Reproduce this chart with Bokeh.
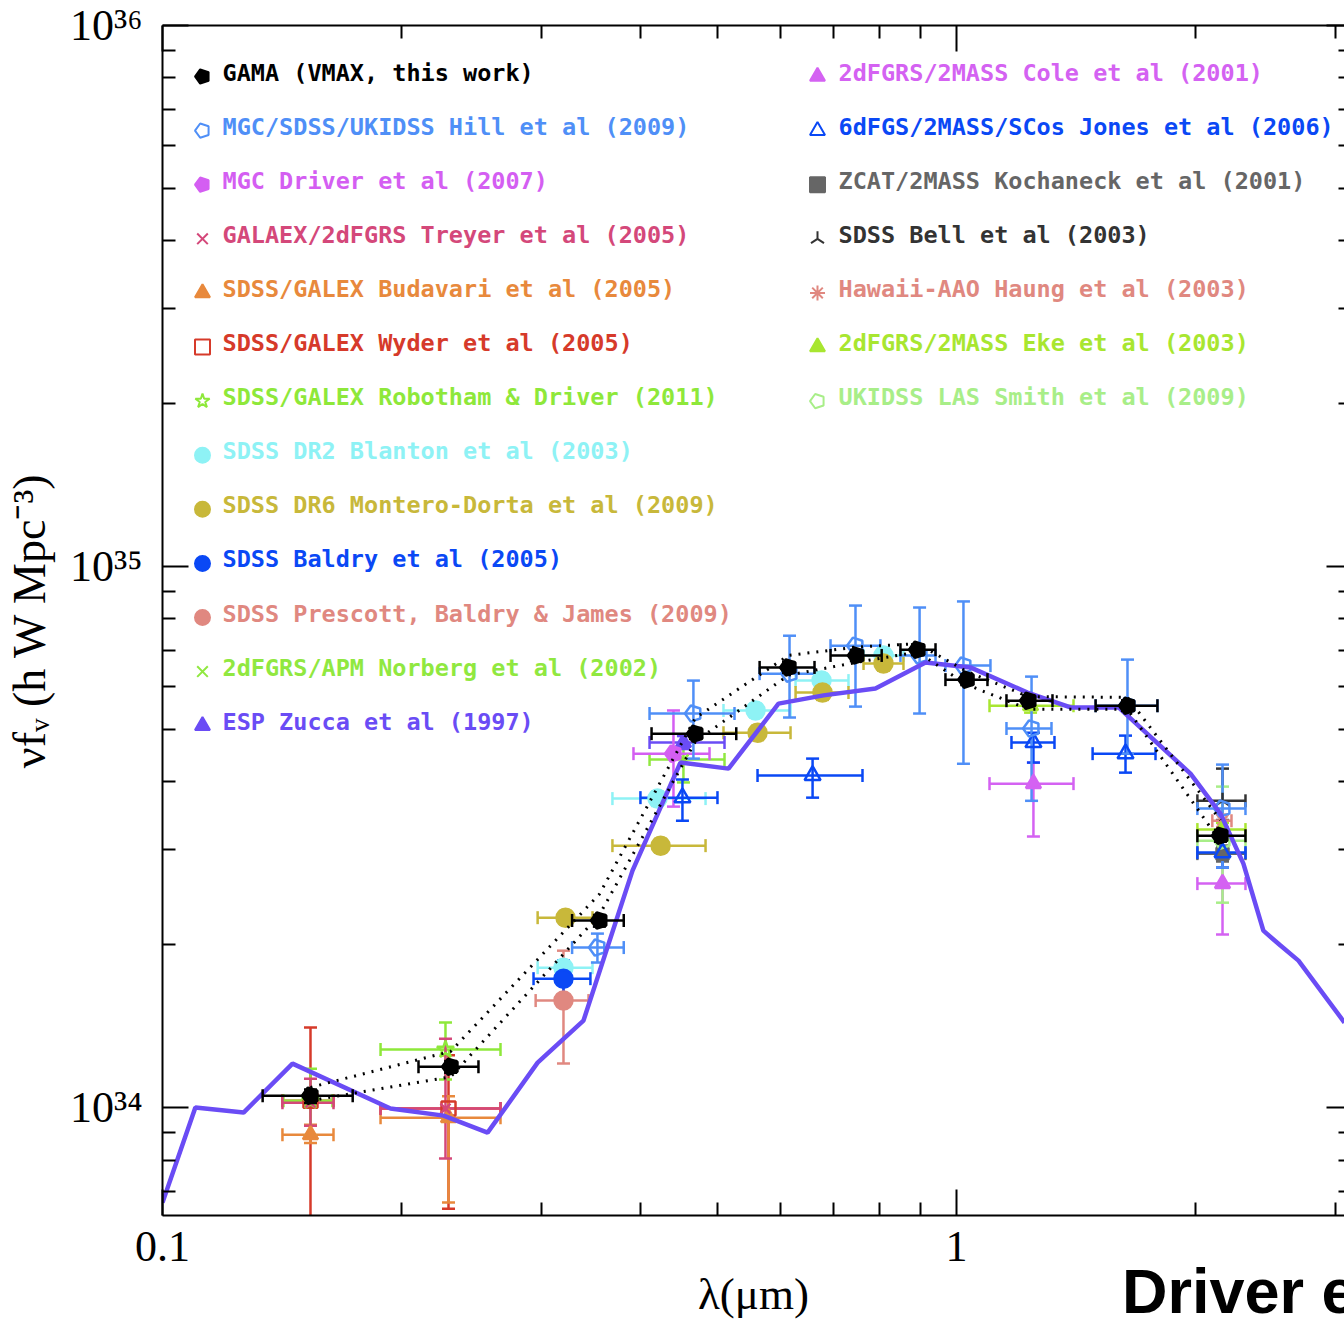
import numpy as np
from bokeh.plotting import figure
from bokeh.layouts import column
from bokeh.models import (ColumnDataSource, Whisker, TeeHead, FixedTicker, LogAxis, Div,
                          Range1d, LinearScale, PrintfTickFormatter, CustomLabelingPolicy)
from bokeh.core.properties import value
from bokeh.embed import file_html
from bokeh.resources import INLINE

try:
    from bokeh.models import Ngon
    HAS_NGON = True
except ImportError:
    HAS_NGON = False

E = 1e34  # luminosity values below are in units of 1e34 h W Mpc^-3

# ---------------- data (lambda in micron, nu f_nu in 1e34 h W Mpc^-3) -------------
gama_lam    = [0.1536, 0.2306, 0.3550, 0.4690, 0.6144, 0.7480, 0.8930, 1.0300, 1.2320, 1.6420, 2.1500]
gama_lam_lo = [0.1337, 0.2101, 0.3280, 0.4130, 0.5650, 0.6940, 0.8500, 0.9685, 1.1560, 1.4970, 2.0110]
gama_lam_hi = [0.1736, 0.2500, 0.3810, 0.5280, 0.6625, 0.8050, 0.9410, 1.0940, 1.3210, 1.7910, 2.3120]
gama_lum    = [1.052, 1.190, 2.217, 4.910, 6.510, 6.850, 7.020, 6.180, 5.650, 5.530, 3.180]
gama_lum_lo = [1.020, 1.160, 2.160, 4.800, 6.360, 6.690, 6.860, 6.040, 5.520, 5.410, 3.100]
gama_lum_hi = [1.080, 1.220, 2.270, 5.030, 6.660, 7.010, 7.180, 6.320, 5.780, 5.660, 3.260]
gama_up     = [1.090, 1.270, 2.480, 5.250, 6.850, 7.100, 7.200, 6.400, 5.750, 5.730, 3.400]
gama_dn     = [1.030, 1.140, 2.270, 4.750, 6.300, 6.650, 6.950, 6.050, 5.450, 5.450, 3.100]

hill_lam    = [0.3530, 0.4663, 0.6162, 0.7461, 0.8985, 1.0204, 1.2432, 1.6420, 2.1630]
hill_lam_lo = [0.3280, 0.4106, 0.5650, 0.6940, 0.8500, 0.9685, 1.1560, 1.4970, 2.0110]
hill_lam_hi = [0.3810, 0.5253, 0.6625, 0.8020, 0.9410, 1.1035, 1.3172, 1.7910, 2.3120]
hill_lum    = [1.976, 5.350, 6.340, 7.140, 6.850, 6.560, 5.020, 5.530, 3.570]
hill_lum_lo = [1.854, 4.416, 5.260, 5.510, 5.350, 4.320, 3.690, 4.510, 2.778]
hill_lum_hi = [2.097, 6.155, 7.450, 8.470, 8.400, 8.620, 6.260, 6.730, 4.305]

drv07_lam, drv07_lam_lo, drv07_lam_hi = [0.4401], [0.3919], [0.4886]
drv07_lum, drv07_lum_lo, drv07_lum_hi = [4.51], [3.60], [5.42]

treyer_lam, treyer_lam_lo, treyer_lam_hi = [0.1536, 0.2272], [0.1416, 0.1882], [0.1642, 0.2665]
treyer_lum, treyer_lum_lo, treyer_lum_hi = [1.021, 0.996], [0.926, 0.805], [1.131, 1.341]

budav_lam, budav_lam_lo, budav_lam_hi = [0.1536, 0.2292], [0.1416, 0.1882], [0.1642, 0.2665]
budav_lum, budav_lum_lo, budav_lum_hi = [0.891, 0.958], [0.860, 0.6675], [0.930, 1.050]

wyder_lam, wyder_lam_lo, wyder_lam_hi = [0.1536, 0.2292], [0.1416, 0.1882], [0.1642, 0.2665]
wyder_lum, wyder_lum_lo, wyder_lum_hi = [1.030, 0.996], [0.550, 0.6505], [1.406, 1.250]

robo_lam, robo_lam_lo, robo_lam_hi = [0.1536, 0.2272], [0.1420, 0.1882], [0.1637, 0.2665]
robo_lum, robo_lum_lo, robo_lum_hi = [1.030, 1.280], [0.888, 1.127], [1.180, 1.436]

blan_lam    = [0.3199, 0.4202, 0.5584, 0.6761, 0.8092]
blan_lam_lo = [0.2968, 0.3687, 0.5088, 0.6271, 0.7637]
blan_lam_hi = [0.3480, 0.4830, 0.6180, 0.7311, 0.8575]
blan_lum    = [1.814, 3.725, 5.420, 6.155, 6.850]
blan_lum_lo = [1.760, 3.610, 5.260, 5.970, 6.640]
blan_lum_hi = [1.870, 3.840, 5.580, 6.340, 7.060]

mont_lam    = [0.3218, 0.4240, 0.5616, 0.6780, 0.8092]
mont_lam_lo = [0.2968, 0.3687, 0.5088, 0.6271, 0.7637]
mont_lam_hi = [0.3480, 0.4830, 0.6180, 0.7311, 0.8575]
mont_lum    = [2.244, 3.049, 4.930, 5.850, 6.620]
mont_lum_lo = [2.180, 2.960, 4.780, 5.670, 6.420]
mont_lum_hi = [2.310, 3.140, 5.080, 6.030, 6.820]

bald_lam, bald_lam_lo, bald_lam_hi = [0.3199], [0.2933], [0.3459]
bald_lum, bald_lum_lo, bald_lum_hi = [1.731], [1.577], [1.869]

pres_lam, pres_lam_lo, pres_lam_hi = [0.3199], [0.2951], [0.3440]
pres_lum, pres_lum_lo, pres_lum_hi = [1.577], [1.206], [1.950]

norb_lam, norb_lam_lo, norb_lam_hi = [0.4530], [0.4106], [0.5103]
norb_lum, norb_lum_lo, norb_lum_hi = [4.40], [3.99], [4.67]

zucca_lam, zucca_lam_lo, zucca_lam_hi = [0.4530], [0.4106], [0.5103]
zucca_lum, zucca_lum_lo, zucca_lum_hi = [4.73], [4.60], [4.86]

cole_lam, cole_lam_lo, cole_lam_hi = [1.250, 2.163], [1.1005, 2.011], [1.404, 2.312]
cole_lum, cole_lum_lo, cole_lum_hi = [3.970, 2.594], [3.170, 2.089], [4.342, 2.898]

jones_lam    = [0.4517, 0.6588, 1.2500, 1.6326, 2.1630]
jones_lam_lo = [0.3999, 0.5616, 1.1729, 1.4840, 2.0110]
jones_lam_hi = [0.5000, 0.7614, 1.3287, 1.7810, 2.3120]
jones_lum    = [3.740, 4.110, 4.730, 4.510, 2.960]
jones_lum_lo = [3.390, 3.740, 4.342, 4.160, 2.778]
jones_lum_hi = [4.040, 4.416, 4.930, 4.870, 3.250]

koch_lam, koch_lam_lo, koch_lam_hi = [2.163], [2.011], [2.312]
koch_lum, koch_lum_lo, koch_lum_hi = [2.947], [2.850], [3.050]

bell_lam, bell_lam_lo, bell_lam_hi = [2.163], [2.011], [2.312]
bell_lum, bell_lum_lo, bell_lum_hi = [3.690], [3.400], [4.232]

huang_lam, huang_lam_lo, huang_lam_hi = [2.163], [2.100], [2.220]
huang_lum, huang_lum_lo, huang_lum_hi = [3.390], [3.300], [3.480]

eke_lam, eke_lam_lo, eke_lam_hi = [1.2396, 2.163], [1.1005, 2.011], [1.404, 2.312]
eke_lum, eke_lum_lo, eke_lum_hi = [5.530, 3.265], [5.370, 3.170], [5.725, 3.360]

smith_lam, smith_lam_lo, smith_lam_hi = [2.163], [2.011], [2.312]
smith_lum, smith_lum_lo, smith_lum_hi = [3.114], [2.392], [3.920]

# model SED curve (solid blue-violet line)
sed_lam = [0.1000, 0.1100, 0.1265, 0.1458, 0.1937, 0.2259, 0.2567, 0.2968, 0.3390, 0.3908,
           0.4491, 0.5163, 0.5968, 0.6800, 0.7906, 0.9141, 1.0410, 1.2285, 1.3920, 1.6000,
           1.9710, 2.1500, 2.2980, 2.4350, 2.5590, 2.6960, 3.0810]
sed_lum = [0.6675, 1.000, 0.979, 1.206, 0.996, 0.9665, 0.899, 1.211, 1.448, 2.741,
           4.342, 4.232, 5.580, 5.780, 5.950, 6.647, 6.510, 5.850, 5.490, 5.490,
           4.143, 3.494, 2.825, 2.124, 1.993, 1.869, 1.436]

x_ticks = [0.1, 1, 10]
x_minor = [0.2, 0.3, 0.4, 0.5, 0.6, 0.7, 0.8, 0.9, 2, 3, 4, 5, 6, 7, 8, 9]
x_labels = {0.1: "0.1", 1: "1", 10: "10"}
y_ticks = [1e34, 1e35, 1e36]
y_minor = [m * 10.0 ** k for k in (33, 34, 35) for m in range(2, 10)]
y_labels = {1e34: "10\u00b3\u2074", 1e35: "10\u00b3\u2075", 1e36: "10\u00b3\u2076"}

# ---------------- figure ----------------
W, H = 1344, 1322
BL, BR, BT, BB = 162, 0, 25, 107
FW, FH = W - BL - BR, H - BT - BB
XMAX = 3.081
YMIN = 6.318e33
p = figure(width=W, height=H, x_axis_type="log", y_axis_type="log",
           x_range=Range1d(0.1, XMAX), y_range=Range1d(YMIN, 1e36),
           output_backend="svg", toolbar_location=None,
           min_border_left=BL, min_border_right=BR, min_border_top=BT, min_border_bottom=BB)
p.outline_line_color = None
p.grid.visible = False
p.background_fill_color = "white"
p.border_fill_color = "white"
# pixel-based helper ranges (used only to place the legend block)
p.extra_x_ranges = {"px": Range1d(0, FW)}
p.extra_y_ranges = {"py": Range1d(FH, 0)}
p.extra_x_scales = {"px": LinearScale()}
p.extra_y_scales = {"py": LinearScale()}

def style_axis(ax, ticks, minor, show_labels, tick_in=26, minor_in=13, line=True):
    ax.ticker = FixedTicker(ticks=ticks, minor_ticks=minor)
    ax.formatter = PrintfTickFormatter(format="%g")
    ax.major_tick_in = tick_in
    ax.major_tick_out = 0
    ax.minor_tick_in = minor_in
    ax.minor_tick_out = 0
    ax.major_tick_line_width = 2
    ax.minor_tick_line_width = 2
    ax.major_tick_line_color = "black"
    ax.minor_tick_line_color = "black"
    ax.axis_line_width = 2
    ax.axis_line_color = "black" if line else None
    if not show_labels:
        ax.major_label_text_font_size = "0px"
        ax.major_label_standoff = 0
        ax.major_label_policy = CustomLabelingPolicy(code="")

xb = p.xaxis[0]
yl = p.yaxis[0]
style_axis(xb, x_ticks, x_minor, True)
style_axis(yl, y_ticks, y_minor, True)
xb.major_label_overrides = x_labels
yl.major_label_overrides = y_labels
for ax in (xb, yl):
    ax.major_label_text_font = "Liberation Serif"
    ax.major_label_text_font_size = "44px"
    ax.major_label_text_color = "black"
    ax.axis_label_text_font = "Liberation Serif"
    ax.axis_label_text_font_style = "normal"
    ax.axis_label_text_color = "black"
xb.axis_label_text_font_size = "45px"
yl.axis_label_text_font_size = "46px"
xb.major_label_standoff = 16
yl.major_label_standoff = 20
xb.axis_label = "\u03bb(\u03bcm)"
xb.axis_label_standoff = 5
yl.axis_label = "\u03bdf\u1d65 (h W Mpc\u207b\u00b3)"
yl.axis_label_standoff = 12

xt = LogAxis()
style_axis(xt, x_ticks, x_minor, False)
p.add_layout(xt, "above")
yr = LogAxis()
style_axis(yr, y_ticks, y_minor, False, tick_in=18, minor_in=6, line=False)
p.add_layout(yr, "right")

# ---------------- series ----------------
def add_set(lam, lam_lo, lam_hi, lum, lum_lo, lum_hi, color, marker, filled, size,
            lw=2.5, level="underlay"):
    src = ColumnDataSource(dict(
        x=lam, y=[v * E for v in lum], xl=lam_lo, xh=lam_hi,
        yl=[v * E for v in lum_lo], yh=[v * E for v in lum_hi]))
    for dim, base, lo, hi in (("height", "x", "yl", "yh"), ("width", "y", "xl", "xh")):
        w = Whisker(source=src, base=base, lower=lo, upper=hi, dimension=dim,
                    line_color=color, line_width=lw, level=level,
                    upper_head=TeeHead(size=13, line_color=color, line_width=lw),
                    lower_head=TeeHead(size=13, line_color=color, line_width=lw))
        p.add_layout(w)
    if marker == "pentagon" and HAS_NGON:
        g = Ngon(x="x", y="y", radius=size / 2.0, radius_units="screen", n=5,
                 angle=np.pi / 2, line_color=color, line_width=2.5,
                 fill_color=color if filled else None)
        p.add_glyph(src, g)
    else:
        mk = "hex" if marker == "pentagon" else marker
        ang = np.pi if marker == "y" else 0
        p.scatter("x", "y", source=src, marker=mk, size=size, angle=ang,
                  line_color=color, line_width=2.5,
                  fill_color=color if filled else None)

C = dict(gama="#000000", hill="#4f8ff7", drv07="#d45ef2", treyer="#d4487a",
         budav="#e8893c", wyder="#d63a2a", robo="#8ee83a", blan="#8ef2f5",
         mont="#c8b83a", bald="#0a48f5", pres="#e08880", norb="#90e840",
         zucca="#6a4cf5", cole="#d462f2", jones="#0a48f5", koch="#666666",
         bell="#333333", huang="#e08880", eke="#a8e630", smith="#a8ee88")
MK = dict(gama=("pentagon", True), hill=("pentagon", False), drv07=("pentagon", True),
          treyer=("x", False), budav=("triangle", True), wyder=("square", False),
          robo=("star", False), blan=("circle", True), mont=("circle", True),
          bald=("circle", True), pres=("circle", True), norb=("x", False),
          zucca=("triangle", True), cole=("triangle", True), jones=("triangle", False),
          koch=("square", True), bell=("y", False), huang=("asterisk", False),
          eke=("triangle", True), smith=("pentagon", False))

add_set(wyder_lam, wyder_lam_lo, wyder_lam_hi, wyder_lum, wyder_lum_lo, wyder_lum_hi, C["wyder"], "square", False, 14)
add_set(budav_lam, budav_lam_lo, budav_lam_hi, budav_lum, budav_lum_lo, budav_lum_hi, C["budav"], "triangle", True, 15)
add_set(robo_lam, robo_lam_lo, robo_lam_hi, robo_lum, robo_lum_lo, robo_lum_hi, C["robo"], "star", False, 18)
add_set(treyer_lam, treyer_lam_lo, treyer_lam_hi, treyer_lum, treyer_lum_lo, treyer_lum_hi, C["treyer"], "x", False, 14)
add_set(pres_lam, pres_lam_lo, pres_lam_hi, pres_lum, pres_lum_lo, pres_lum_hi, C["pres"], "circle", True, 18)
add_set(blan_lam, blan_lam_lo, blan_lam_hi, blan_lum, blan_lum_lo, blan_lum_hi, C["blan"], "circle", True, 18)
add_set(mont_lam, mont_lam_lo, mont_lam_hi, mont_lum, mont_lum_lo, mont_lum_hi, C["mont"], "circle", True, 18)
add_set(bald_lam, bald_lam_lo, bald_lam_hi, bald_lum, bald_lum_lo, bald_lum_hi, C["bald"], "circle", True, 18)
add_set(norb_lam, norb_lam_lo, norb_lam_hi, norb_lum, norb_lum_lo, norb_lum_hi, C["norb"], "x", False, 14)
add_set(zucca_lam, zucca_lam_lo, zucca_lam_hi, zucca_lum, zucca_lum_lo, zucca_lum_hi, C["zucca"], "triangle", True, 15)
add_set(drv07_lam, drv07_lam_lo, drv07_lam_hi, drv07_lum, drv07_lum_lo, drv07_lum_hi, C["drv07"], "pentagon", True, 17)
add_set(cole_lam, cole_lam_lo, cole_lam_hi, cole_lum, cole_lum_lo, cole_lum_hi, C["cole"], "triangle", True, 15)
add_set(koch_lam, koch_lam_lo, koch_lam_hi, koch_lum, koch_lum_lo, koch_lum_hi, C["koch"], "square", True, 12)
add_set(bell_lam, bell_lam_lo, bell_lam_hi, bell_lum, bell_lum_lo, bell_lum_hi, C["bell"], "y", False, 16)
add_set(huang_lam, huang_lam_lo, huang_lam_hi, huang_lum, huang_lum_lo, huang_lum_hi, C["huang"], "asterisk", False, 14)
add_set(eke_lam, eke_lam_lo, eke_lam_hi, eke_lum, eke_lum_lo, eke_lum_hi, C["eke"], "triangle", True, 15)
add_set(smith_lam, smith_lam_lo, smith_lam_hi, smith_lum, smith_lum_lo, smith_lum_hi, C["smith"], "pentagon", False, 17)
add_set(jones_lam, jones_lam_lo, jones_lam_hi, jones_lum, jones_lum_lo, jones_lum_hi, C["jones"], "triangle", False, 16)
add_set(hill_lam, hill_lam_lo, hill_lam_hi, hill_lum, hill_lum_lo, hill_lum_hi, C["hill"], "pentagon", False, 17)

p.line(sed_lam, [v * E for v in sed_lum], line_color="#6a4cf5", line_width=4.5)
p.line(gama_lam, [v * E for v in gama_up], line_color="black", line_width=3, line_dash="2 7")
p.line(gama_lam, [v * E for v in gama_dn], line_color="black", line_width=3, line_dash="2 7")
add_set(gama_lam, gama_lam_lo, gama_lam_hi, gama_lum, gama_lum_lo, gama_lum_hi,
        C["gama"], "pentagon", True, 17, level="annotation")

# ---------------- legend block (two columns) ----------------
left_col = [
    ("gama", "GAMA (VMAX, this work)"),
    ("hill", "MGC/SDSS/UKIDSS Hill et al (2009)"),
    ("drv07", "MGC Driver et al (2007)"),
    ("treyer", "GALAEX/2dFGRS Treyer et al (2005)"),
    ("budav", "SDSS/GALEX Budavari et al (2005)"),
    ("wyder", "SDSS/GALEX Wyder et al (2005)"),
    ("robo", "SDSS/GALEX Robotham & Driver (2011)"),
    ("blan", "SDSS DR2 Blanton et al (2003)"),
    ("mont", "SDSS DR6 Montero-Dorta et al (2009)"),
    ("bald", "SDSS Baldry et al (2005)"),
    ("pres", "SDSS Prescott, Baldry & James (2009)"),
    ("norb", "2dFGRS/APM Norberg et al (2002)"),
    ("zucca", "ESP Zucca et al (1997)"),
]
right_col = [
    ("cole", "2dFGRS/2MASS Cole et al (2001)"),
    ("jones", "6dFGS/2MASS/SCos Jones et al (2006)"),
    ("koch", "ZCAT/2MASS Kochaneck et al (2001)"),
    ("bell", "SDSS Bell et al (2003)"),
    ("huang", "Hawaii-AAO Haung et al (2003)"),
    ("eke", "2dFGRS/2MASS Eke et al (2003)"),
    ("smith", "UKIDSS LAS Smith et al (2009)"),
]

ROW0, ROWSTEP = 47.0, 54.1          # first row centre below frame top, row pitch (px)
COLS = ((left_col, 40.0, 60.0), (right_col, 655.0, 676.0))  # marker x, text x (px from frame left)
lt = dict(x=[], y=[], text=[], color=[])
lm = {}
for col, mx, tx in COLS:
    for i, (key, label) in enumerate(col):
        yc = ROW0 + ROWSTEP * i
        lt["x"].append(tx); lt["y"].append(yc); lt["text"].append(label); lt["color"].append(C[key])
        mk, filled = MK[key]
        d = lm.setdefault((mk, filled), dict(x=[], y=[], color=[], angle=[]))
        d["x"].append(mx); d["y"].append(yc + 4); d["color"].append(C[key])
        d["angle"].append(np.pi if mk == "y" else 0.0)

p.text("x", "y", text="text", source=ColumnDataSource(lt), x_range_name="px", y_range_name="py",
       text_color="color", text_font=value("DejaVu Sans Mono"), text_font_style="bold",
       text_font_size="23.5px", text_baseline="middle", text_align="left")
for (mk, filled), d in lm.items():
    src = ColumnDataSource(d)
    if mk == "pentagon" and HAS_NGON:
        g = Ngon(x="x", y="y", radius=7.5, radius_units="screen", n=5, angle=np.pi / 2,
                 line_color="color", line_width=2, fill_color="color" if filled else None)
        p.add_glyph(src, g, x_range_name="px", y_range_name="py")
    else:
        p.scatter("x", "y", source=src, marker="hex" if mk == "pentagon" else mk, size=15,
                  angle="angle", line_color="color", line_width=2,
                  fill_color="color" if filled else None,
                  x_range_name="px", y_range_name="py")

# caption text in the lower-right corner (overlaps the plot's bottom border, cut by the page edge)
caption = Div(
    text=("<span style=\"font-family:'Liberation Sans'; font-weight:bold; font-size:63px; "
          "line-height:60px; white-space:nowrap; color:black\">Driver et al</span>"),
    width=222, height=60,
    styles={"margin-top": "-61px", "margin-left": "1122px", "overflow": "hidden",
            "white-space": "nowrap"})

layout = column(p, caption, spacing=0)
open("out.html", "w").write(file_html(layout, INLINE))
